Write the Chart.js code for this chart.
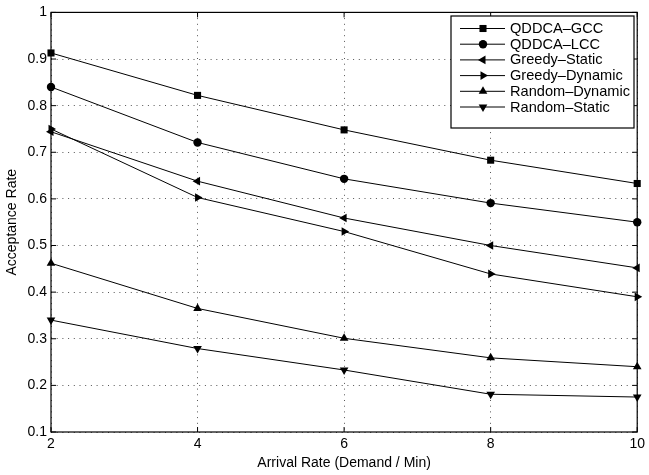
<!DOCTYPE html>
<html>
<head>
<meta charset="utf-8">
<script src="https://cdn.jsdelivr.net/npm/chart.js@4.4.1/dist/chart.umd.min.js"></script>
<style>
  html, body { margin: 0; padding: 0; background: #fff; }
  #wrap { width: 649px; height: 475px; }
</style>
</head>
<body>
<div id="wrap"><canvas id="chart"></canvas></div>
<script>
// arrival rates (demand / min)
const arrivalRates = [2, 4, 6, 8, 10];
const yTicks = [0.1, 0.2, 0.3, 0.4, 0.5, 0.6, 0.7, 0.8, 0.9, 1];

const seriesNames = ["QDDCA–GCC", "QDDCA–LCC", "Greedy–Static", "Greedy–Dynamic", "Random–Dynamic", "Random–Static"];
const qddcaGcc      = [0.913, 0.822, 0.748, 0.683, 0.633];
const qddcaLcc      = [0.840, 0.721, 0.643, 0.591, 0.550];
const greedyStatic  = [0.744, 0.638, 0.559, 0.500, 0.452];
const greedyDynamic = [0.750, 0.603, 0.530, 0.439, 0.390];
const randomDynamic = [0.462, 0.365, 0.301, 0.259, 0.240];
const randomStatic  = [0.340, 0.279, 0.233, 0.181, 0.175];

const seriesValues = [qddcaGcc, qddcaLcc, greedyStatic, greedyDynamic, randomDynamic, randomStatic];
const markers = [
  { style: "rect", rot: 0, r: 5 },
  { style: "circle", rot: 0, r: 4.2 },
  { style: "triangle", rot: 270, r: 5 },
  { style: "triangle", rot: 90, r: 5 },
  { style: "triangle", rot: 0, r: 5 },
  { style: "triangle", rot: 180, r: 5 }
];

const FONT = "'Liberation Sans', Arial, Helvetica, sans-serif";

const datasets = seriesNames.map((name, i) => ({
  label: name,
  data: arrivalRates.map((x, j) => ({ x: x, y: seriesValues[i][j] })),
  borderColor: "#000",
  backgroundColor: "#000",
  borderWidth: 1,
  pointStyle: markers[i].style,
  pointRotation: markers[i].rot,
  pointRadius: markers[i].r,
  pointBorderWidth: 0,
  tension: 0,
  clip: false
}));

// black box with inward ticks, MATLAB style
const framePlugin = {
  id: "frame",
  afterDatasetsDraw(chart) {
    const { ctx, chartArea: a, scales } = chart;
    ctx.save();
    ctx.strokeStyle = "#000";
    ctx.lineWidth = 1.2;
    ctx.strokeRect(a.left, a.top, a.right - a.left, a.bottom - a.top);
    ctx.lineWidth = 1;
    ctx.beginPath();
    const tl = 5;
    arrivalRates.forEach(v => {
      const px = scales.x.getPixelForValue(v);
      ctx.moveTo(px, a.bottom); ctx.lineTo(px, a.bottom - tl);
      ctx.moveTo(px, a.top); ctx.lineTo(px, a.top + tl);
    });
    yTicks.forEach(v => {
      const py = scales.y.getPixelForValue(v);
      ctx.moveTo(a.left, py); ctx.lineTo(a.left + tl, py);
      ctx.moveTo(a.right, py); ctx.lineTo(a.right - tl, py);
    });
    ctx.stroke();
    ctx.restore();
  }
};

// boxed legend inside the plot, top right
const legendPlugin = {
  id: "boxLegend",
  afterDraw(chart) {
    const { ctx } = chart;
    const bx = 451, by = 16, bw = 183, bh = 112;
    const rowH = 15.7, firstY = 28.5;
    ctx.save();
    ctx.fillStyle = "#fff";
    ctx.fillRect(bx, by, bw, bh);
    ctx.strokeStyle = "#000";
    ctx.lineWidth = 1.2;
    ctx.strokeRect(bx, by, bw, bh);
    ctx.font = "14.6px " + FONT;
    ctx.textBaseline = "middle";
    ctx.textAlign = "left";
    seriesNames.forEach((name, i) => {
      const y = firstY + i * rowH;
      ctx.strokeStyle = "#000";
      ctx.lineWidth = 1;
      ctx.beginPath();
      ctx.moveTo(460, y); ctx.lineTo(505, y);
      ctx.stroke();
      ctx.fillStyle = "#000";
      Chart.helpers.drawPoint(ctx, {
        pointStyle: markers[i].style,
        rotation: markers[i].rot,
        radius: markers[i].r,
        borderWidth: 0
      }, 483, y);
      ctx.fillStyle = "#000";
      ctx.fillText(name, 510, y + 0.5);
    });
    ctx.restore();
  }
};

new Chart(document.getElementById("chart"), {
  type: "line",
  data: { datasets: datasets },
  options: {
    responsive: true,
    maintainAspectRatio: false,
    animation: false,
    layout: { padding: { left: 0, right: 8, top: 9, bottom: 0 } },
    plugins: { legend: { display: false }, tooltip: { enabled: false } },
    scales: {
      x: {
        type: "linear",
        min: 2, max: 10,
        afterFit(scale) { scale.height = 43; },
        afterBuildTicks(scale) { scale.ticks = arrivalRates.map(v => ({ value: v })); },
        ticks: { color: "#000", font: { family: FONT, size: 14 }, padding: 4, maxRotation: 0 },
        grid: { color: "#555", lineWidth: 1, drawTicks: false },
        border: { display: false, dash: [1, 4.7] },
        title: { display: true, text: "Arrival Rate (Demand / Min)", color: "#000", font: { family: FONT, size: 14 }, padding: { top: 0, bottom: 3.5 } }
      },
      y: {
        min: 0.1, max: 1,
        afterFit(scale) { scale.width = 51; },
        afterBuildTicks(scale) { scale.ticks = yTicks.map(v => ({ value: v })); },
        ticks: {
          color: "#000", font: { family: FONT, size: 14 }, padding: 4,
          callback: v => String(Number(v.toFixed(1)))
        },
        grid: { color: "#555", lineWidth: 1, drawTicks: false },
        border: { display: false, dash: [1, 4.7] },
        title: { display: true, text: "Acceptance Rate", color: "#000", font: { family: FONT, size: 14 }, padding: { top: 3.5, bottom: 0 } }
      }
    }
  },
  plugins: [framePlugin, legendPlugin]
});
</script>
</body>
</html>
